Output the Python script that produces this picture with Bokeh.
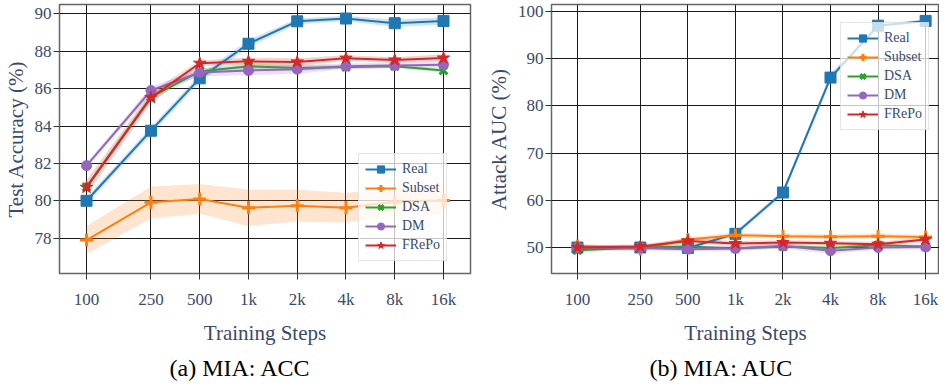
from bokeh.plotting import figure
from bokeh.layouts import row
from bokeh.models import FixedTicker, Legend, LegendItem, Title, Range1d
from bokeh.embed import file_html
from bokeh.resources import INLINE

# ---------------- data ----------------
steps = [100, 250, 500, 1000, 2000, 4000, 8000, 16000]
step_labels = ["100", "250", "500", "1k", "2k", "4k", "8k", "16k"]
methods = ["Real", "Subset", "DSA", "DM", "FRePo"]

acc_real = [80.0, 83.75, 86.55, 88.4, 89.6, 89.75, 89.5, 89.62]
acc_real_std = [0.2, 0.2, 0.2, 0.2, 0.15, 0.15, 0.2, 0.2]
acc_subset = [77.9, 79.92, 80.1, 79.63, 79.74, 79.63, 79.95, 80.02]
acc_subset_std = [0.75, 0.85, 0.8, 0.98, 0.85, 0.8, 0.7, 0.75]
acc_dsa = [80.74, 85.55, 86.92, 87.2, 87.1, 87.16, 87.2, 86.97]
acc_dsa_std = [0.15, 0.2, 0.15, 0.15, 0.15, 0.1, 0.1, 0.1]
acc_dm = [81.88, 85.9, 86.86, 86.97, 87.04, 87.2, 87.24, 87.28]
acc_dm_std = [0.15, 0.2, 0.2, 0.25, 0.25, 0.15, 0.15, 0.15]
acc_frepo = [80.72, 85.52, 87.36, 87.46, 87.43, 87.63, 87.53, 87.64]
acc_frepo_std = [0.4, 0.3, 0.15, 0.2, 0.2, 0.15, 0.15, 0.2]

auc_real = [50.0, 50.0, 49.9, 52.9, 61.65, 86.0, 97.0, 98.0]
auc_real_std = [0.4, 0.4, 0.4, 0.5, 0.6, 0.8, 0.4, 0.3]
auc_subset = [50.3, 49.7, 51.7, 52.6, 52.4, 52.3, 52.4, 52.2]
auc_subset_std = [0.5, 0.5, 0.5, 0.5, 0.5, 0.5, 0.5, 0.5]
auc_dsa = [49.4, 50.0, 50.2, 49.8, 50.2, 49.9, 50.5, 50.2]
auc_dsa_std = [0.4, 0.4, 0.4, 0.4, 0.4, 0.4, 0.4, 0.4]
auc_dm = [50.0, 49.9, 49.65, 49.8, 50.35, 49.3, 50.0, 50.1]
auc_dm_std = [0.5, 0.5, 0.5, 0.5, 0.6, 0.6, 0.5, 0.5]
auc_frepo = [50.0, 50.2, 51.4, 50.85, 51.05, 50.9, 50.7, 51.7]
auc_frepo_std = [0.5, 0.5, 0.5, 0.5, 0.5, 0.5, 0.5, 0.5]

acc_ticks = [78, 80, 82, 84, 86, 88, 90]
auc_ticks = [50, 60, 70, 80, 90, 100]

# ---------------- styles ----------------
colors = ["#1f77b4", "#ff7f0e", "#2ca02c", "#9467bd", "#d62728"]
markers = ["square", "cross", "x", "circle", "star"]
msizes = [11, 13, 11, 10, 13]
mlw = [1, 3, 3, 1, 1]
FONT = "Liberation Serif"
TXT = "#3a4a6b"


def make_panel(series, stds, x_rng, y_rng, y_ticks, ylabel, caption,
               frame_w, min_left, min_right, legend_xy, cap_off):
    p = figure(x_axis_type="log",
               x_range=Range1d(*x_rng), y_range=Range1d(*y_rng),
               frame_width=frame_w, frame_height=269,
               min_border_left=min_left, min_border_right=min_right,
               min_border_top=4, min_border_bottom=102,
               output_backend="svg", toolbar_location=None)
    p.background_fill_color = "white"
    p.border_fill_color = "white"
    p.outline_line_color = "#666666"
    p.outline_line_width = 1.5

    p.xaxis.ticker = FixedTicker(ticks=steps)
    p.xgrid.ticker = FixedTicker(ticks=steps)
    p.xaxis.major_label_overrides = {s: l for s, l in zip(steps, step_labels)}
    p.yaxis.ticker = FixedTicker(ticks=y_ticks)
    p.ygrid.ticker = FixedTicker(ticks=y_ticks)

    for ax in (p.xaxis, p.yaxis):
        ax.axis_line_color = None
        ax.major_tick_line_color = "#333333"
        ax.major_tick_in = 0
        ax.major_tick_out = 6
        ax.minor_tick_line_color = None
        ax.major_label_text_font = FONT
        ax.major_label_text_font_size = "17px"
        ax.major_label_text_color = TXT
        ax.axis_label_text_font = FONT
        ax.axis_label_text_font_size = "21px"
        ax.axis_label_text_font_style = "normal"
        ax.axis_label_text_color = TXT
    p.xaxis.axis_label = "Training Steps"
    p.yaxis.axis_label = ylabel
    p.xaxis.major_label_standoff = 10
    p.xaxis.axis_label_standoff = 9
    p.yaxis.major_label_standoff = 2
    p.yaxis.axis_label_standoff = 4

    for g in (p.xgrid, p.ygrid):
        g.grid_line_color = "#1a1a1a"
        g.grid_line_width = 1

    items = []
    for name, vals, sd, c, m, ms, lw in zip(methods, series, stds, colors,
                                            markers, msizes, mlw):
        lo = [v - s for v, s in zip(vals, sd)]
        hi = [v + s for v, s in zip(vals, sd)]
        p.varea(x=steps, y1=lo, y2=hi, fill_color=c, fill_alpha=0.2)
        lr = p.line(steps, vals, line_color=c, line_width=2)
        if m in ("cross", "x"):
            sr = p.scatter(steps, vals, marker=m, size=ms, line_color=c,
                           line_width=lw)
        else:
            sr = p.scatter(steps, vals, marker=m, size=ms, fill_color=c,
                           line_color=c, line_width=lw)
        items.append(LegendItem(label=name, renderers=[lr, sr]))

    leg = Legend(items=items, location=legend_xy)
    leg.label_text_font = FONT
    leg.label_text_font_size = "14px"
    leg.label_text_color = TXT
    leg.glyph_width = 31
    leg.glyph_height = 18
    leg.label_height = 18
    leg.label_standoff = 6
    leg.spacing = 1
    leg.padding = 6
    leg.margin = 0
    leg.border_line_color = "#cccccc"
    leg.border_line_width = 1
    leg.background_fill_color = "white"
    leg.background_fill_alpha = 0.75
    p.add_layout(leg)

    p.add_layout(Title(text=caption, align="left", offset=cap_off,
                       standoff=10, text_font=FONT,
                       text_font_size="24px", text_font_style="normal",
                       text_color="black"), "below")
    return p


p1 = make_panel([acc_real, acc_subset, acc_dsa, acc_dm, acc_frepo],
                [acc_real_std, acc_subset_std, acc_dsa_std, acc_dm_std, acc_frepo_std],
                (68.1, 23490), (76.11, 90.5), acc_ticks,
                "Test Accuracy (%)", "(a) MIA: ACC",
                411, 54, 7, (299, 12), 110)
p2 = make_panel([auc_real, auc_subset, auc_dsa, auc_dm, auc_frepo],
                [auc_real_std, auc_subset_std, auc_dsa_std, auc_dm_std, auc_frepo_std],
                (68.5, 19590), (44.49, 101.48), auc_ticks,
                "Attack AUC (%)", "(b) MIA: AUC",
                388, 74, 0, (289, 143), 98)

layout = row(p1, p2)
open("out.html", "w").write(file_html(layout, INLINE))
